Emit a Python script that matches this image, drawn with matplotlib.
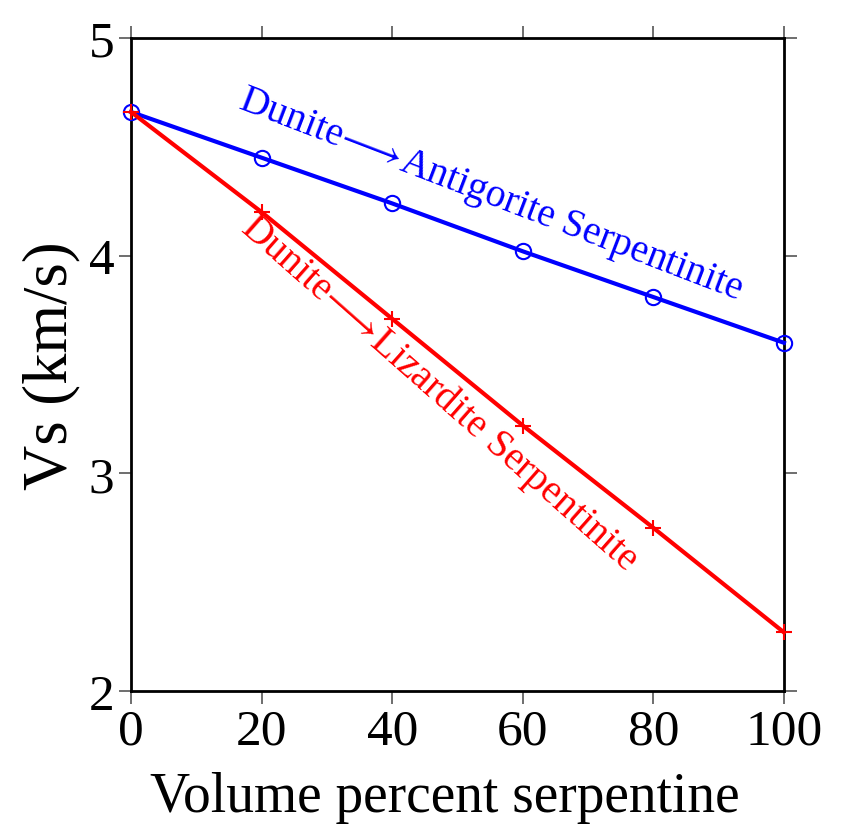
import matplotlib.pyplot as plt

# Volume percent serpentine and shear velocity (km/s)
volume_pct = [0, 20, 40, 60, 80, 100]
vs_antigorite = [4.66, 4.45, 4.24, 4.02, 3.81, 3.60]
vs_lizardite = [4.66, 4.20, 3.71, 3.22, 2.75, 2.27]

plt.rcParams['font.family'] = ['Liberation Serif', 'DejaVu Sans']
plt.rcParams['mathtext.fontset'] = 'stix'

fig = plt.figure(figsize=(8.48, 8.28), dpi=100)
ax = fig.add_axes([0.1545, 0.164, 0.77, 0.789])

ax.plot(volume_pct, vs_antigorite, color='blue', lw=3, marker='o', ms=11,
        mfc='none', mec='blue', mew=1.5, clip_on=False, zorder=3)
ax.plot(volume_pct, vs_lizardite, color='red', lw=3, marker='+', ms=12,
        mew=1.5, clip_on=False, zorder=3)

ax.text(55, 4.28, r'Dunite$\!\longrightarrow\!$Antigorite Serpentinite', color='blue',
        fontsize=28.5, rotation=-21, ha='center', va='center',
        rotation_mode='anchor')
ax.text(47.3, 3.37, r'Dunite$\!\longrightarrow\!$Lizardite Serpentinite', color='red',
        fontsize=28.5, rotation=-41.5, ha='center', va='center',
        rotation_mode='anchor')

ax.set_xlim(0, 100)
ax.set_ylim(2, 5)
ax.set_xticks([0, 20, 40, 60, 80, 100])
ax.set_yticks([2, 3, 4, 5])
ax.tick_params(direction='out', length=9, width=1.2, color='#555555',
               labelsize=37, top=True, right=True, pad=3)
for s in ax.spines.values():
    s.set_linewidth(2)

ax.set_xlabel('Volume percent serpentine', fontsize=40, labelpad=12)
ax.xaxis.label.set_x(0.48)
ax.set_ylabel('Vs (km/s)', fontsize=45, labelpad=6)

fig.savefig('out.png', dpi=100)
